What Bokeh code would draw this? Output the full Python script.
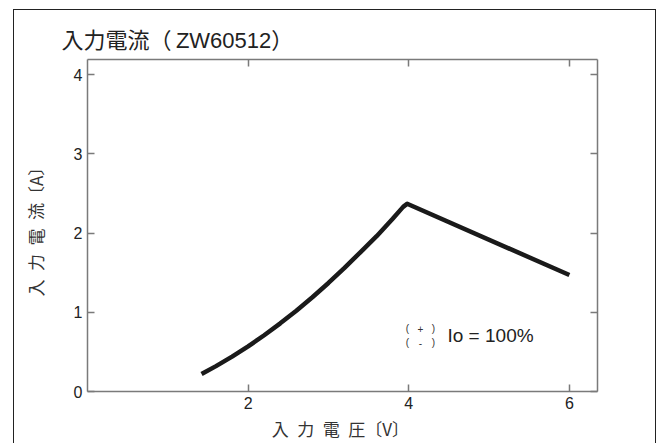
from bokeh.plotting import figure
from bokeh.models import Range1d, FixedTicker, LinearAxis, Label, InlineStyleSheet
from bokeh.embed import file_html
from bokeh.resources import INLINE

# --- data ---
voltage = [1.42, 1.6, 1.8, 2.0, 2.2, 2.4, 2.6, 2.8, 3.0, 3.2, 3.4, 3.6, 3.8, 3.93, 3.98, 6.0]
current = [0.22, 0.32, 0.44, 0.57, 0.71, 0.86, 1.02, 1.19, 1.37, 1.56, 1.76, 1.96, 2.18, 2.33, 2.37, 1.47]
x_ticks = [2, 4, 6]
y_ticks = [0, 1, 2, 3, 4]

SP = "\u2002"
TH = "\u2009"
title_text = "入力電流（" + TH + "ZW60512）"
x_label = SP.join("入力電圧") + "〔V〕" + "\u2005"
y_label = SP.join("入力電流") + "〔A〕" + "\u2005"
note_text = "Io = 100%"

LATIN_CJK = "Liberation Sans, Noto Sans CJK JP"
CJK = "Noto Sans CJK JP"
LATIN = "Liberation Sans"

p = figure(width=660, height=443, output_backend="svg", toolbar_location=None,
           x_range=Range1d(0, 6.35), y_range=Range1d(0, 4.19),
           min_border_left=87, min_border_right=63, min_border_top=59, min_border_bottom=51,
           x_axis_location=None, y_axis_location=None)
p.outline_line_color = None
p.background_fill_color = "white"
p.border_fill_color = "white"
for g in p.grid:
    g.visible = False

p.title.text = title_text
p.title.text_font = LATIN_CJK
p.title.text_font_size = "22px"
p.title.text_font_style = "normal"
p.title.text_color = "#222222"
p.title.align = "left"
p.title.offset = -26
p.title.standoff = 14

def style_axis(ax, ticks, show_labels):
    ax.ticker = FixedTicker(ticks=ticks)
    ax.axis_line_color = "#7a7a7a"
    ax.axis_line_width = 1.5
    ax.major_tick_line_color = "#7a7a7a"
    ax.major_tick_line_width = 1.5
    ax.major_tick_in = 7
    ax.major_tick_out = 0
    ax.minor_tick_line_color = None
    ax.major_label_text_font = LATIN
    if show_labels:
        ax.major_label_text_font_size = "16px"
        ax.major_label_text_color = "#222222"
        ax.major_label_standoff = 5
    else:
        ax.major_label_text_font_size = "0px"
        ax.major_label_text_color = None
        ax.major_label_standoff = 0
    ax.axis_label_text_font = CJK
    ax.axis_label_text_font_size = "17px"
    ax.axis_label_text_font_style = "normal"
    ax.axis_label_text_color = "#333333"

xb = LinearAxis(axis_label=x_label)
style_axis(xb, x_ticks, True)
xb.axis_label_standoff = 4
p.add_layout(xb, "below")

yl = LinearAxis(axis_label=y_label)
style_axis(yl, y_ticks, True)
yl.axis_label_standoff = 23
p.add_layout(yl, "left")

xa = LinearAxis()
style_axis(xa, x_ticks, False)
p.add_layout(xa, "above")

yr = LinearAxis()
style_axis(yr, y_ticks, False)
p.add_layout(yr, "right")

p.line(voltage, current, line_width=4.5, line_color="#1a1a1a", line_join="round")

# screen units are relative to the frame's bottom-left corner
p.add_layout(Label(x=360, y=56, x_units="screen", y_units="screen", text=note_text,
                   text_font=LATIN, text_font_size="19px", text_color="#222222",
                   text_baseline="middle", text_align="left"))
for row_y, mid in [(63, "+"), (49, "-")]:
    for sx, ch in [(320, "("), (333, mid), (346, ")")]:
        p.add_layout(Label(x=sx, y=row_y, x_units="screen", y_units="screen", text=ch,
                           text_font=LATIN, text_font_size="10px", text_color="#333333",
                           text_baseline="middle", text_align="center"))

# outer frame of the figure (left, top, right edges; bottom edge lies below the window)
p.stylesheets = [InlineStyleSheet(css="""
:host { position: relative; }
:host::after {
  content: "";
  position: absolute;
  left: 13px; top: 9px; width: 643px; height: 434px;
  box-sizing: border-box;
  border-left: 1.3px solid #222; border-top: 1.3px solid #222; border-right: 1.3px solid #222;
  border-bottom: none;
  pointer-events: none;
  z-index: 100;
}
""")]

open("out.html", "w").write(file_html(p, INLINE))
